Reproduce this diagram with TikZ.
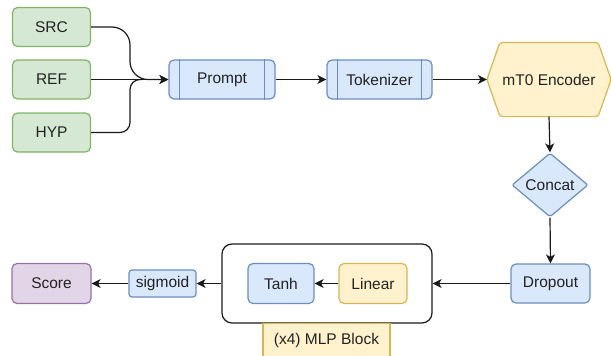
\documentclass[tikz,border=0pt]{standalone}
\usepackage{fontspec}
\setmainfont{Liberation Sans}
\usetikzlibrary{shapes.geometric,arrows.meta,backgrounds,calc}
\definecolor{gfill}{HTML}{D5E8D4}\definecolor{gline}{HTML}{82B366}
\definecolor{bfill}{HTML}{DAE8FC}\definecolor{bline}{HTML}{6C8EBF}
\definecolor{yfill}{HTML}{FFF2CC}\definecolor{yline}{HTML}{D6B656}
\definecolor{pfill}{HTML}{E1D5E7}\definecolor{pline}{HTML}{9673A6}
\definecolor{txt}{HTML}{222222}
\definecolor{edge}{HTML}{1A1A1A}
\begin{document}
\begin{tikzpicture}[x=1pt,y=-1pt,
  every node/.style={font=\fontsize{15.5}{18}\selectfont, text=txt, line width=1.2pt, inner sep=0pt},
  box/.style={draw, rounded corners=5pt, minimum width=#1, minimum height=39pt},
  gbox/.style={box=#1, fill=gfill, draw=gline},
  bbox/.style={box=#1, fill=bfill, draw=bline},
  ybox/.style={box=#1, fill=yfill, draw=yline},
  pbox/.style={box=#1, fill=pfill, draw=pline},
  arr/.style={-{Stealth[length=9pt,width=9pt,inset=2.5pt]}, line width=1.2pt, draw=edge},
  link/.style={line width=1.2pt, draw=edge}]
\useasboundingbox (0,0) rectangle (611,356);
% inputs
\node[gbox=78pt] (src) at (51.5,27) {SRC};
\node[gbox=78pt] (ref) at (51.5,79.5) {REF};
\node[gbox=78pt] (hyp) at (51.5,132.5) {HYP};
% process boxes
\node[bbox=106pt] (prompt) at (222,79.5) {Prompt};
\node[bbox=105pt] (tok) at (379.5,79.5) {Tokenizer};
\foreach \n in {prompt,tok}{
  \draw[bline, line width=1.2pt] ([xshift=11pt]\n.north west) -- ([xshift=11pt]\n.south west);
  \draw[bline, line width=1.2pt] ([xshift=-11pt]\n.north east) -- ([xshift=-11pt]\n.south east);
}
% encoder hexagon
\node[minimum width=123pt, minimum height=73pt] (enc) at (549,79.5) {mT0 Encoder};
\begin{scope}[on background layer]
\draw[fill=yfill, draw=yline, line width=1.2pt, rounded corners=3pt]
  (enc.west) -- ($(enc.north west)+(13,0)$) -- ($(enc.north east)+(-13,0)$) -- (enc.east)
  -- ($(enc.south east)+(-13,0)$) -- ($(enc.south west)+(13,0)$) -- cycle;
\end{scope}
% concat
\node[diamond, aspect=1.19, draw=bline, fill=bfill, minimum width=76pt, minimum height=64pt, rounded corners=2pt] (concat) at (550,185) {Concat};
\node[bbox=79pt] (drop) at (550.5,283.5) {Dropout};
% MLP block
\node[draw=edge, rounded corners=10pt, minimum width=210pt, minimum height=79pt] (mlp) at (327,283.5) {};
\node[bbox=66pt, minimum height=40pt] (tanh) at (281,283.5) {Tanh};
\node[ybox=68pt, minimum height=40pt] (lin) at (373,283.5) {Linear};
\node[draw=yline, fill=yfill, minimum width=127pt, minimum height=35pt, anchor=north, text depth=0pt] (lab) at (326.5,323) {};
\node at ($(lab.north)+(0,17)$) {(x4) MLP Block};
\node[bbox=67pt, minimum height=27pt, rounded corners=3pt] (sig) at (162.5,283.5) {sigmoid};
\node[pbox=79pt, minimum height=40pt] (score) at (51.5,283.5) {Score};
% connectors
\coordinate (j) at (130,79.5);
\draw[arr, rounded corners=18pt] (src.east) -| (j) -- (prompt.west);
\draw[arr] (ref.east) -- (prompt.west);
\draw[link, rounded corners=10pt] (hyp.east) -| (j) -- ($(j)+(12,0)$);
\draw[arr] (prompt.east) -- (tok.west);
\draw[arr] (tok.east) -- (enc.west);
\draw[arr] (enc.south) -- (concat.north);
\draw[arr] (concat.south) -- (drop.north);
\draw[arr] (drop.west) -- (mlp.east);
\draw[arr] (lin.west) -- (tanh.east);
\draw[arr] (mlp.west) -- (sig.east);
\draw[arr] (sig.west) -- (score.east);
\end{tikzpicture}
\end{document}
